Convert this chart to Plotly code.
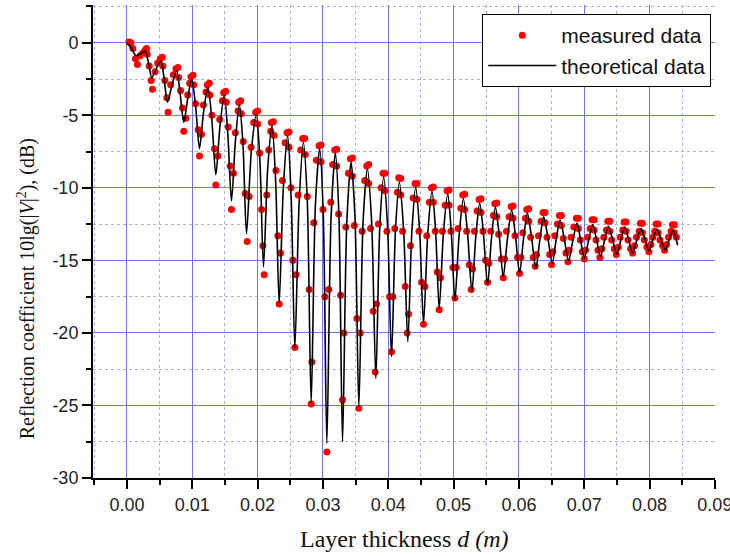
import plotly.graph_objects as go

# Theoretical curve: per cycle -> mid-descent, trough, mid-ascent, next peak
theory_x = [0.0,
    0.0007, 0.0014, 0.0021, 0.0028,
    0.0033, 0.0038, 0.0045, 0.0052,
    0.0057, 0.0062, 0.0069, 0.0076,
    0.00815, 0.0087, 0.0093, 0.0099,
    0.0105, 0.0111, 0.01175, 0.0124,
    0.0130, 0.0136, 0.01425, 0.0149,
    0.01545, 0.0160, 0.0166, 0.0172,
    0.01775, 0.0183, 0.01905, 0.0198,
    0.02035, 0.0209, 0.02155, 0.0222,
    0.02275, 0.0233, 0.02395, 0.0246,
    0.02515, 0.0257, 0.02635, 0.0270,
    0.0276, 0.0282, 0.02885, 0.0295,
    0.03005, 0.0306, 0.03125, 0.0319,
    0.03245, 0.0330, 0.03365, 0.0343,
    0.0349, 0.0355, 0.03615, 0.0368,
    0.03745, 0.0381, 0.0387, 0.0393,
    0.0399, 0.0405, 0.0411, 0.0417,
    0.04235, 0.0430, 0.0436, 0.0442,
    0.0448, 0.0454, 0.04605, 0.0467,
    0.04725, 0.0478, 0.04845, 0.0491,
    0.04965, 0.0502, 0.05085, 0.0515,
    0.05215, 0.0528, 0.0534, 0.0540,
    0.0546, 0.0552, 0.0558, 0.0564,
    0.0570, 0.0576, 0.05825, 0.0589,
    0.0595, 0.0601, 0.0607, 0.0613,
    0.06195, 0.0626, 0.0632, 0.0638,
    0.06445, 0.0651, 0.0657, 0.0663,
    0.06695, 0.0676, 0.06825, 0.0689,
    0.06945, 0.0700, 0.07065, 0.0713,
    0.0719, 0.0725, 0.0731, 0.0737,
    0.07435, 0.0750, 0.0756, 0.0762,
    0.0768, 0.0774, 0.07805, 0.0787,
    0.0793, 0.0799, 0.0805, 0.0811,
    0.08175, 0.0824, 0.0830, 0.0836,
    0.0843]
theory_y = [0.0,
    -0.4, -0.9, -0.74, -0.6,
    -1.41, -2.4, -1.76, -1.24,
    -2.53, -4.1, -2.91, -1.93,
    -3.54, -5.5, -3.85, -2.5,
    -4.32, -7.3, -4.68, -3.07,
    -5.36, -9.1, -5.69, -3.6,
    -6.37, -10.9, -6.78, -4.26,
    -6.93, -13.16, -7.41, -4.95,
    -8.1, -15.45, -8.63, -5.71,
    -9.39, -17.97, -9.87, -6.4,
    -10.8, -21.07, -11.12, -6.86,
    -10.82, -24.85, -11.17, -7.31,
    -11.77, -27.6, -12.01, -7.61,
    -11.99, -27.5, -12.47, -8.23,
    -11.94, -25.08, -12.30, -8.69,
    -12.3, -23.13, -12.73, -9.26,
    -12.73, -21.64, -12.98, -9.61,
    -12.91, -20.6, -13.15, -9.95,
    -12.96, -19.35, -13.15, -10.23,
    -12.98, -18.32, -13.1, -10.41,
    -13.05, -17.75, -13.27, -10.75,
    -13.19, -17.17, -13.38, -11.05,
    -13.31, -16.71, -13.48, -11.33,
    -13.35, -16.14, -13.48, -11.55,
    -13.42, -15.91, -13.53, -11.74,
    -13.46, -15.57, -13.61, -12.0,
    -13.48, -15.22, -13.59, -12.2,
    -13.53, -15.04, -13.66, -12.43,
    -13.61, -14.88, -13.66, -12.54,
    -13.59, -14.72, -13.65, -12.66,
    -13.58, -14.58, -13.6, -12.7,
    -13.56, -14.49, -13.62, -12.81,
    -13.55, -14.35, -13.58, -12.86,
    -13.55, -14.3, -13.59, -12.93,
    -13.96]

# Measured data (red dots), read cycle by cycle
meas_x = [
    0.0003, 0.0006, 0.0009, 0.0013, 0.0016, 0.0020, 0.0024,
    0.0028, 0.0031, 0.0034, 0.0037, 0.0039, 0.0043, 0.0047,
    0.0051, 0.0055, 0.0058, 0.0061, 0.0063, 0.0067, 0.0071,
    0.0075, 0.0079, 0.0082, 0.0085, 0.0087, 0.0090, 0.0093, 0.0096,
    0.0098, 0.0102, 0.0105, 0.0109, 0.0111, 0.0114, 0.0117, 0.0121,
    0.0123, 0.0127, 0.0130, 0.0134, 0.0136, 0.0139, 0.0142, 0.0146,
    0.0148, 0.0152, 0.0155, 0.0158, 0.0160, 0.0163, 0.0166, 0.0170,
    0.0171, 0.0175, 0.0178, 0.0181, 0.0184, 0.0187, 0.0190, 0.0194,
    0.0197, 0.0200, 0.0203, 0.0206, 0.0208, 0.0210, 0.0214, 0.0217, 0.0220,
    0.0221, 0.0225, 0.0228, 0.0231, 0.0233, 0.0235, 0.0238, 0.0242,
    0.0245, 0.0248, 0.0251, 0.0254, 0.0257, 0.0259, 0.0262, 0.0266,
    0.0269, 0.0273, 0.0276, 0.0279, 0.0282, 0.0283, 0.0286, 0.0290,
    0.0294, 0.0297, 0.0300, 0.0303, 0.0306, 0.0309, 0.0312, 0.0315,
    0.0318, 0.0321, 0.0324, 0.0327, 0.0330, 0.0332, 0.0335, 0.0339,
    0.0342, 0.0345, 0.0348, 0.0352, 0.0355, 0.0357, 0.0360, 0.0364,
    0.0367, 0.0370, 0.0373, 0.0377, 0.0380, 0.0382, 0.0385, 0.0389,
    0.0392, 0.0395, 0.0398, 0.0402, 0.0405, 0.0407, 0.0410, 0.0414,
    0.0416, 0.0419, 0.0422, 0.0426, 0.0429, 0.0431, 0.0434, 0.0438,
    0.0441, 0.0444, 0.0447, 0.0451, 0.0454, 0.0456, 0.0459, 0.0463,
    0.0466, 0.0469, 0.0472, 0.0475, 0.0478, 0.0480, 0.0483, 0.0487,
    0.0490, 0.0493, 0.0496, 0.0499, 0.0502, 0.0504, 0.0507, 0.0511,
    0.0514, 0.0517, 0.0520, 0.0524, 0.0527, 0.0529, 0.0532, 0.0536,
    0.0539, 0.0542, 0.0545, 0.0549, 0.0552, 0.0554, 0.0557, 0.0561,
    0.0563, 0.0566, 0.0569, 0.0573, 0.0576, 0.0578, 0.0581, 0.0585,
    0.0588, 0.0591, 0.0594, 0.0598, 0.0601, 0.0603, 0.0606, 0.0610,
    0.0612, 0.0615, 0.0618, 0.0622, 0.0625, 0.0627, 0.0630, 0.0634,
    0.0637, 0.0640, 0.0643, 0.0647, 0.0650, 0.0652, 0.0655, 0.0659,
    0.0662, 0.0665, 0.0668, 0.0672, 0.0675, 0.0677, 0.0680, 0.0684,
    0.0688, 0.0691, 0.0694, 0.0697, 0.0700, 0.0702, 0.0705, 0.0709,
    0.0712, 0.0715, 0.0718, 0.0721, 0.0724, 0.0727, 0.0730, 0.0734,
    0.0736, 0.0739, 0.0742, 0.0746, 0.0749, 0.0752, 0.0755, 0.0759,
    0.0761, 0.0764, 0.0767, 0.0771, 0.0774, 0.0777, 0.0780, 0.0784,
    0.0786, 0.0789, 0.0792, 0.0796, 0.0799, 0.0802, 0.0805, 0.0808,
    0.0810, 0.0813, 0.0816, 0.0820, 0.0823, 0.0826, 0.0829, 0.0833,
    0.0835, 0.0838, 0.0841,
]
meas_y = [
    0.05, 0.0, -0.4, -1.1, -1.5, -0.9, -0.7,
    -0.5, -0.8, -1.6, -2.6, -3.2, -2.0, -1.4,
    -1.1, -1.6, -2.6, -3.8, -4.8, -2.9, -2.2,
    -1.8, -2.4, -3.3, -4.5, -6.1, -5.2, -3.6, -2.8,
    -2.35, -2.9, -4.2, -6.0, -7.8, -6.3, -4.3, -3.4,
    -2.9, -3.6, -5.0, -7.3, -9.8, -7.8, -5.3, -4.0,
    -3.45, -4.1, -5.8, -8.5, -11.5, -9.0, -6.2, -4.7,
    -4.1, -4.9, -6.8, -10.4, -13.7, -10.6, -7.2, -5.5,
    -4.8, -5.6, -7.6, -11.5, -14.0, -16.0, -10.5, -7.4, -6.1,
    -5.5, -6.4, -8.8, -13.3, -18.0, -14.5, -9.5, -6.9,
    -6.2, -7.2, -10.0, -15.0, -21.0, -16.0, -10.5, -7.4,
    -6.6, -7.7, -10.6, -17.0, -24.9, -22.0, -12.4, -8.1,
    -7.1, -8.2, -11.5, -17.5, -28.2, -17.0, -11.0, -8.4,
    -7.4, -8.5, -11.8, -17.4, -24.6, -20.0, -12.7, -9.0,
    -8.0, -9.2, -12.6, -19.0, -25.2, -20.0, -13.0, -9.5,
    -8.5, -9.7, -12.8, -18.5, -22.7, -18.0, -12.5, -10.0,
    -9.0, -10.2, -13.0, -17.5, -21.3, -17.5, -12.8, -10.3,
    -9.3, -10.5, -13.0, -16.8, -20.0, -18.7, -14.0, -10.7,
    -9.7, -10.8, -13.0, -16.5, -19.4, -16.8, -13.3, -11.0,
    -10.0, -11.0, -13.0, -15.8, -18.4, -16.2, -13.0, -11.2,
    -10.2, -11.2, -13.0, -15.5, -17.6, -15.5, -12.8, -11.4,
    -10.5, -11.5, -13.0, -15.3, -17.0, -15.6, -13.0, -11.6,
    -10.8, -11.7, -13.0, -15.0, -16.5, -15.2, -13.0, -11.9,
    -11.1, -12.0, -13.2, -14.9, -16.2, -14.9, -13.0, -12.0,
    -11.3, -12.1, -13.3, -14.8, -15.9, -14.8, -13.1, -12.1,
    -11.5, -12.3, -13.4, -14.8, -15.4, -14.6, -13.3, -12.3,
    -11.7, -12.4, -13.4, -14.6, -15.3, -14.4, -13.3, -12.5,
    -11.9, -12.6, -13.5, -14.5, -15.1, -14.3, -13.4, -12.7,
    -12.1, -12.8, -13.6, -14.4, -14.9, -14.3, -13.4, -12.8,
    -12.2, -12.9, -13.6, -14.3, -14.8, -14.2, -13.4, -12.9,
    -12.3, -13.0, -13.6, -14.2, -14.6, -14.1, -13.4, -12.9,
    -12.35, -13.0, -13.6, -14.2, -14.5, -14.0, -13.4, -13.0,
    -12.45, -13.1, -13.6, -14.1, -14.4, -13.9, -13.4, -13.0,
    -12.5, -13.1, -13.6, -14.0, -14.3, -13.9, -13.4, -13.0,
    -12.55, -13.1, -13.4,
]

# Extra measured dots clustered on the crests
crest_x = [0.0030, 0.0054, 0.0078, 0.0101, 0.0126, 0.0151, 0.0174, 0.0200, 0.0224,
           0.0248, 0.0272, 0.0297, 0.0321, 0.0345, 0.0370, 0.0395, 0.0419, 0.0444,
           0.0469, 0.0493, 0.0517, 0.0542, 0.0566, 0.0591, 0.0615, 0.0640, 0.0665,
           0.0691, 0.0715, 0.0739, 0.0764, 0.0789, 0.0813, 0.0838]
crest_y = [-0.4, -1.0, -1.7, -2.25, -2.8, -3.35, -4.0, -4.7, -5.45,
           -6.15, -6.6, -7.05, -7.35, -7.95, -8.4, -9.0, -9.35, -9.7,
           -9.95, -10.15, -10.45, -10.75, -11.05, -11.25, -11.45, -11.7, -11.9,
           -12.1, -12.2, -12.3, -12.35, -12.45, -12.5, -12.55]

x_tickvals = [0.0, 0.01, 0.02, 0.03, 0.04, 0.05, 0.06, 0.07, 0.08, 0.09]
x_ticktext = ["0.00", "0.01", "0.02", "0.03", "0.04", "0.05", "0.06", "0.07", "0.08", "0.09"]
y_tickvals = [0, -5, -10, -15, -20, -25, -30]
y_ticktext = ["0", "-5", "-10", "-15", "-20", "-25", "-30"]

SANS = "Liberation Sans, Arial, sans-serif"
SERIF = "Liberation Serif, Times New Roman, serif"
MAJOR = "rgb(115,115,250)"
MINOR = "rgb(175,175,240)"

fig = go.Figure()
fig.add_trace(go.Scatter(
    x=meas_x + crest_x, y=meas_y + crest_y, mode="markers", name="measured data",
    marker=dict(color="#ff0000", size=7, line=dict(width=0)),
))
fig.add_trace(go.Scatter(
    x=theory_x, y=theory_y, mode="lines", name="theoretical data",
    line=dict(color="black", width=1.6, shape="spline", smoothing=0.8),
))

axis_common = dict(
    showline=True, linecolor="black", linewidth=2,
    ticks="outside", ticklen=9, tickwidth=2, tickcolor="black",
    showgrid=True, gridcolor=MAJOR, gridwidth=1,
    zeroline=False, mirror=False, ticklabeloverflow="allow", automargin=False,
    tickfont=dict(family=SANS, size=18, color="#222"),
)

fig.update_xaxes(
    range=[-0.0052, 0.09002], tickmode="array", tickvals=x_tickvals, ticktext=x_ticktext,
    minor=dict(dtick=0.005, tick0=0, ticklen=5, tickwidth=2, tickcolor="black",
               ticks="outside", showgrid=True, gridcolor=MINOR, griddash="dot", gridwidth=1),
    **axis_common,
)
fig.update_yaxes(
    range=[-30, 2.6], tickmode="array", tickvals=y_tickvals, ticktext=y_ticktext,
    minor=dict(dtick=2.5, tick0=0, ticklen=5, tickwidth=2, tickcolor="black",
               ticks="outside", showgrid=True, gridcolor=MINOR, griddash="dot", gridwidth=1),
    **axis_common,
)

fig.update_layout(
    width=730, height=556,
    margin=dict(l=93, r=15, t=5, b=78, autoexpand=False),
    paper_bgcolor="white", plot_bgcolor="white",
    showlegend=True,
    legend=dict(
        x=0.994, y=0.981, xanchor="right", yanchor="top",
        bgcolor="white", bordercolor="black", borderwidth=1,
        font=dict(family=SANS, size=21, color="#111"),
        itemwidth=68, tracegroupgap=0,
    ),
    annotations=[
        dict(text="Layer thickness <i>d (m)</i>", xref="paper", yref="paper",
             x=0.5, y=-0.097, xanchor="center", yanchor="top",
             showarrow=False, font=dict(family=SERIF, size=24, color="#111")),
        dict(text="Reflection coefficient 10lg(|<i>V</i>|<sup>2</sup>), (dB)",
             xref="paper", yref="paper", x=-0.107, y=0.40, xanchor="center", yanchor="middle",
             textangle=-90, showarrow=False, font=dict(family=SERIF, size=20, color="#111")),
    ],
)

fig.write_html("out.html")
